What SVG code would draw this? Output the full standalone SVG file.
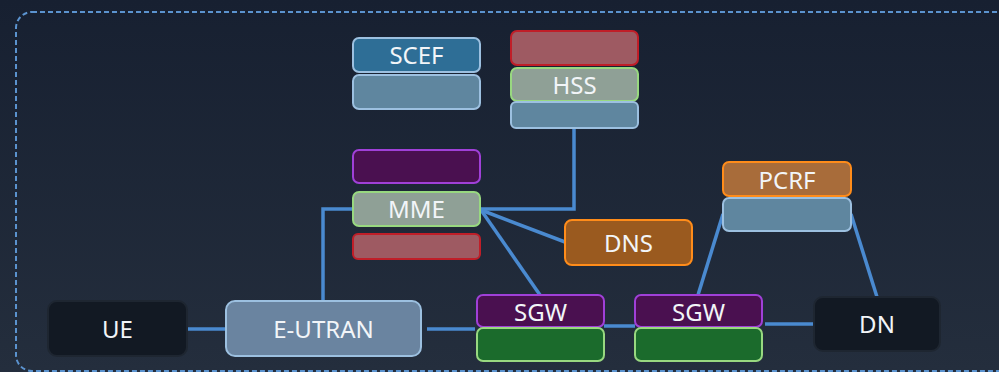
<svg xmlns="http://www.w3.org/2000/svg" width="999" height="372" viewBox="0 0 999 372">
<defs>
<linearGradient id="bg" x1="0" y1="0" x2="0" y2="1">
<stop offset="0" stop-color="#172031"/>
<stop offset="1" stop-color="#242e3d"/>
</linearGradient>
</defs>
<style>
.t{font-family:"Noto Sans","Open Sans","DejaVu Sans",sans-serif;font-size:24px;fill:#f2f5f8;text-anchor:middle}
.c{stroke:#4a8ad0;stroke-width:3.5;fill:none}
rect{stroke-width:2}
.lb{fill:#5f869f;stroke:#9cc0e0}
.gr{fill:#8fa096;stroke:#98d880}
.rd{fill:#9e5a62;stroke:#c01e28}
.pu{fill:#4a1050;stroke:#a040d8}
.gn{fill:#1b6b2c;stroke:#98d880}
.dk{fill:#121923;stroke:#1e2631}
</style>
<rect x="0" y="0" width="999" height="372" fill="url(#bg)" stroke="none"/>
<rect x="16" y="12" width="1000" height="359" rx="16" fill="none" stroke="#5b93cf" stroke-width="1.5" stroke-dasharray="5 3"/>
<g id="connectors">
<line class="c" x1="187" y1="329" x2="226" y2="329"/>
<line class="c" x1="427" y1="329" x2="475" y2="329"/>
<polyline class="c" points="323,301 323,209 353,209"/>
<polyline class="c" points="574,128 574,209 481,209"/>
<line class="c" x1="481" y1="210" x2="565" y2="242"/>
<line class="c" x1="481" y1="210" x2="540" y2="295"/>
<line class="c" x1="604" y1="326" x2="635" y2="326"/>
<line class="c" x1="698" y1="295" x2="723" y2="214"/>
<line class="c" x1="851" y1="214" x2="877" y2="297"/>
<line class="c" x1="765" y1="324" x2="814" y2="324"/>
</g>
<g id="scef">
<rect x="353" y="38" width="127" height="34" rx="6" fill="#2e6e96" stroke="#9cc0e0"/>
<text class="t" x="416.5" y="64">SCEF</text>
<rect class="lb" x="353" y="75" width="127" height="34" rx="6"/>
</g>
<g id="mme">
<rect class="pu" x="353" y="150" width="127" height="33" rx="6"/>
<rect class="gr" x="353" y="192" width="127" height="34" rx="6"/>
<text class="t" x="416.5" y="218">MME</text>
<rect class="rd" x="353" y="234" width="127" height="25" rx="5"/>
</g>
<g id="hss">
<rect class="rd" x="511" y="31" width="127" height="34" rx="6"/>
<rect class="gr" x="511" y="68" width="127" height="33" rx="6"/>
<text class="t" x="574.5" y="94">HSS</text>
<rect class="lb" x="511" y="102" width="127" height="26" rx="5"/>
</g>
<g id="dns">
<rect x="565" y="220" width="127" height="45" rx="7" fill="#9a5a1f" stroke="#ff8c1a"/>
<text class="t" x="628.5" y="251.5">DNS</text>
</g>
<g id="pcrf">
<rect x="723" y="162" width="128" height="34" rx="6" fill="#a86c3a" stroke="#ff8c1a"/>
<text class="t" x="787" y="188.5">PCRF</text>
<rect class="lb" x="723" y="198" width="128" height="33" rx="6"/>
</g>
<g id="ue">
<rect class="dk" x="48" y="301" width="139" height="55" rx="9"/>
<text class="t" x="117.5" y="337.5">UE</text>
</g>
<g id="eutran">
<rect x="226" y="301" width="195" height="55" rx="9" fill="#6a84a0" stroke="#9cc0e0"/>
<text class="t" x="323.5" y="337.5">E-UTRAN</text>
</g>
<g id="sgw1">
<rect class="pu" x="477" y="295" width="127" height="32" rx="6"/>
<text class="t" x="540.5" y="320.5">SGW</text>
<rect class="gn" x="477" y="328" width="127" height="33" rx="6"/>
</g>
<g id="sgw2">
<rect class="pu" x="635" y="295" width="127" height="32" rx="6"/>
<text class="t" x="698.5" y="320.5">SGW</text>
<rect class="gn" x="635" y="328" width="127" height="33" rx="6"/>
</g>
<g id="dn">
<rect class="dk" x="814" y="297" width="126" height="54" rx="9"/>
<text class="t" x="877" y="332.5">DN</text>
</g>
</svg>
